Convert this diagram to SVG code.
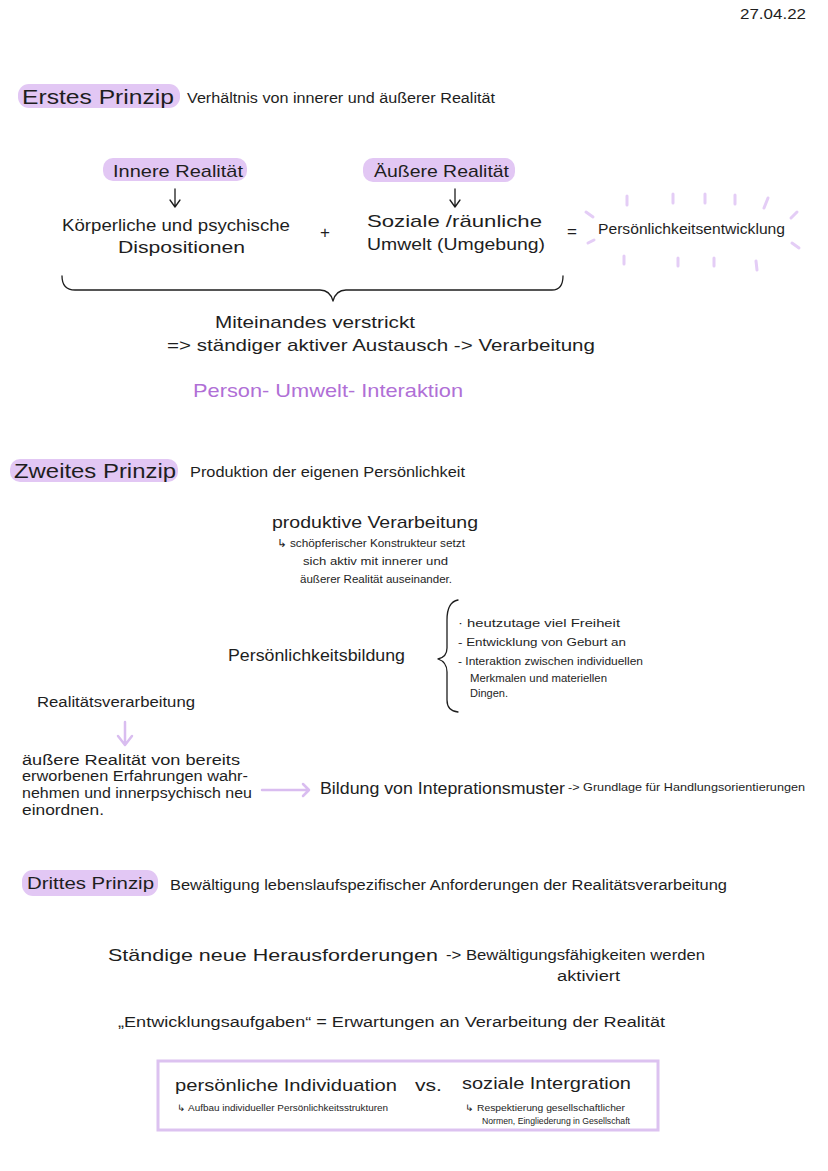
<svg xmlns="http://www.w3.org/2000/svg" width="828" height="1171" viewBox="0 0 828 1171">
<style>
text{font-family:"Liberation Sans","Open Sans",sans-serif;fill:#1e1e1e}
.hl{fill:#e2c7f4}
.p{fill:#b06fd6}
.ln{fill:none;stroke:#1e1e1e;stroke-width:1.3;stroke-linecap:round;stroke-linejoin:round}
.lp{fill:none;stroke:#d9bdf0;stroke-width:2.5;stroke-linecap:round;stroke-linejoin:round}
.sp{stroke:#e4cdf6;stroke-width:3;stroke-linecap:round}
.h{font-size:21px}
.s{font-size:14px}
.m{font-size:17px}
.t{font-size:11px}
.x{font-size:9px}
</style>
<rect width="828" height="1171" fill="#ffffff"/>
<g id="date"><text x="740" y="19" font-size="14" textLength="66" lengthAdjust="spacingAndGlyphs">27.04.22</text></g>

<g id="p1-title">
<rect class="hl" x="18" y="84" width="162" height="24" rx="11"/>
<text class="h" x="22" y="104" textLength="152" lengthAdjust="spacingAndGlyphs">Erstes Prinzip</text>
<text class="s" x="187" y="103" textLength="308" lengthAdjust="spacingAndGlyphs">Verhältnis von innerer und äußerer Realität</text>
</g>

<g id="innere">
<rect class="hl" x="103" y="158" width="144" height="23" rx="10"/>
<text class="m" x="113" y="177" textLength="130" lengthAdjust="spacingAndGlyphs">Innere Realität</text>
<path class="ln" d="M175 189 V206 M170 200 L175 207 L180 200"/>
<text class="m" x="62" y="231" textLength="228" lengthAdjust="spacingAndGlyphs">Körperliche und psychische</text>
<text class="m" x="118" y="253" textLength="127" lengthAdjust="spacingAndGlyphs">Dispositionen</text>
</g>
<g id="plus"><text class="m" x="320" y="238">+</text></g>
<g id="aeussere">
<rect class="hl" x="363" y="158" width="152" height="24" rx="10"/>
<text class="m" x="374" y="177" textLength="135" lengthAdjust="spacingAndGlyphs">Äußere Realität</text>
<path class="ln" d="M455 189 V206 M450 200 L455 207 L460 200"/>
<text class="m" x="367" y="227" textLength="175" lengthAdjust="spacingAndGlyphs">Soziale /räunliche</text>
<text class="m" x="367" y="250" textLength="178" lengthAdjust="spacingAndGlyphs">Umwelt (Umgebung)</text>
</g>
<g id="equals"><text class="m" x="567" y="237">=</text></g>
<g id="entwicklung">
<text class="s" x="598" y="234" textLength="187" lengthAdjust="spacingAndGlyphs">Persönlichkeitsentwicklung</text>
<g class="sp">
<line x1="627" y1="196" x2="627" y2="205"/>
<line x1="673" y1="194" x2="673" y2="203"/>
<line x1="705" y1="194" x2="705" y2="203"/>
<line x1="735" y1="195" x2="735" y2="204"/>
<line x1="768" y1="198" x2="764" y2="208"/>
<line x1="586" y1="212" x2="593" y2="217"/>
<line x1="588" y1="243" x2="594" y2="240"/>
<line x1="797" y1="212" x2="791" y2="218"/>
<line x1="792" y1="243" x2="799" y2="248"/>
<line x1="624" y1="256" x2="624" y2="264"/>
<line x1="678" y1="258" x2="678" y2="266"/>
<line x1="714" y1="258" x2="714" y2="266"/>
<line x1="756" y1="261" x2="757" y2="270"/>
</g>
</g>
<g id="brace1"><path class="ln" d="M62 276 Q62 290 75 290 L320 290 Q330 290 333 301 Q336 290 346 290 L552 290 Q563 290 563 276"/></g>
<g id="austausch">
<text class="m" x="215" y="328" textLength="200" lengthAdjust="spacingAndGlyphs">Miteinandes verstrickt</text>
<text class="m" x="167" y="351" textLength="428" lengthAdjust="spacingAndGlyphs">=&gt; ständiger aktiver Austausch  -&gt; Verarbeitung</text>
<text class="p" x="193" y="397" font-size="19" textLength="270" lengthAdjust="spacingAndGlyphs">Person- Umwelt- Interaktion</text>
</g>

<g id="p2-title">
<rect class="hl" x="10" y="459" width="168" height="23" rx="10"/>
<text class="h" x="14" y="478" textLength="162" lengthAdjust="spacingAndGlyphs">Zweites Prinzip</text>
<text class="s" x="190" y="477" textLength="275" lengthAdjust="spacingAndGlyphs">Produktion der eigenen Persönlichkeit</text>
</g>
<g id="produktiv">
<text class="m" x="272" y="528" font-size="18" textLength="206" lengthAdjust="spacingAndGlyphs">produktive Verarbeitung</text>
<text class="t" x="277" y="547" textLength="188" lengthAdjust="spacingAndGlyphs">↳ schöpferischer Konstrukteur setzt</text>
<text class="t" x="303" y="565" textLength="145" lengthAdjust="spacingAndGlyphs">sich aktiv mit innerer und</text>
<text class="t" x="300" y="583" textLength="152" lengthAdjust="spacingAndGlyphs">äußerer Realität auseinander.</text>
</g>
<g id="bildung">
<text class="m" x="228" y="661" textLength="177" lengthAdjust="spacingAndGlyphs">Persönlichkeitsbildung</text>
<path class="ln" d="M458 600 Q447 602 447 620 L447 648 Q447 657 438 659 Q447 662 447 672 L447 700 Q447 711 458 712"/>
<text class="t" x="458" y="627" textLength="162" lengthAdjust="spacingAndGlyphs">· heutzutage viel Freiheit</text>
<text class="t" x="458" y="646" textLength="168" lengthAdjust="spacingAndGlyphs">- Entwicklung von Geburt an</text>
<text class="t" x="458" y="665" textLength="185" lengthAdjust="spacingAndGlyphs">- Interaktion zwischen individuellen</text>
<text class="t" x="470" y="682" textLength="137" lengthAdjust="spacingAndGlyphs">Merkmalen und materiellen</text>
<text class="t" x="470" y="697" textLength="38" lengthAdjust="spacingAndGlyphs">Dingen.</text>
</g>
<g id="realitaet">
<text class="s" x="37" y="707" font-size="15" textLength="158" lengthAdjust="spacingAndGlyphs">Realitätsverarbeitung</text>
<text class="s" x="22" y="765" font-size="13" textLength="218" lengthAdjust="spacingAndGlyphs">äußere Realität von bereits</text>
<text class="s" x="22" y="781" font-size="13" textLength="226" lengthAdjust="spacingAndGlyphs">erworbenen Erfahrungen wahr-</text>
<text class="s" x="22" y="798" font-size="13" textLength="230" lengthAdjust="spacingAndGlyphs">nehmen und innerpsychisch neu</text>
<text class="s" x="22" y="815" font-size="13" textLength="82" lengthAdjust="spacingAndGlyphs">einordnen.</text>
</g>
<g id="muster">
<text class="m" x="320" y="794" font-size="18" textLength="245" lengthAdjust="spacingAndGlyphs">Bildung von Inteprationsmuster</text>
<text class="t" x="568" y="791" textLength="237" lengthAdjust="spacingAndGlyphs">-&gt; Grundlage für Handlungsorientierungen</text>
</g>
<g id="connectors">
<path class="lp" d="M125 722 V744 M118 736 L125 745 L132 736"/>
<path class="lp" d="M262 790 H308 M303 784 L309 790 L303 796"/>
</g>

<g id="p3-title">
<rect class="hl" x="22" y="870" width="136" height="26" rx="11"/>
<text class="m" x="27" y="889" font-size="18" textLength="127" lengthAdjust="spacingAndGlyphs">Drittes Prinzip</text>
<text class="s" x="170" y="890" textLength="557" lengthAdjust="spacingAndGlyphs">Bewältigung lebenslaufspezifischer Anforderungen der Realitätsverarbeitung</text>
</g>
<g id="herausforderungen">
<text class="m" x="108" y="961" font-size="18" textLength="330" lengthAdjust="spacingAndGlyphs">Ständige neue Herausforderungen</text>
<text class="s" x="446" y="960" font-size="15" textLength="259" lengthAdjust="spacingAndGlyphs">-&gt; Bewältigungsfähigkeiten werden</text>
<text class="s" x="557" y="981" font-size="15" textLength="63" lengthAdjust="spacingAndGlyphs">aktiviert</text>
</g>
<g id="aufgaben">
<text class="s" x="118" y="1027" font-size="16" textLength="547" lengthAdjust="spacingAndGlyphs">„Entwicklungsaufgaben“ = Erwartungen an Verarbeitung der Realität</text>
</g>
<g id="box">
<rect x="158" y="1061" width="500" height="69" fill="none" stroke="#dcc2f0" stroke-width="3"/>
<text class="m" x="175" y="1091" font-size="18" textLength="222" lengthAdjust="spacingAndGlyphs">persönliche Individuation</text>
<text class="m" x="415" y="1091" textLength="27" lengthAdjust="spacingAndGlyphs">vs.</text>
<text class="m" x="462" y="1089" font-size="18" textLength="169" lengthAdjust="spacingAndGlyphs">soziale Intergration</text>
<text class="x" x="177" y="1111" textLength="211" lengthAdjust="spacingAndGlyphs">↳ Aufbau individueller Persönlichkeitsstrukturen</text>
<text class="x" x="465" y="1111" textLength="160" lengthAdjust="spacingAndGlyphs">↳ Respektierung gesellschaftlicher</text>
<text class="x" x="482" y="1124" textLength="148" lengthAdjust="spacingAndGlyphs">Normen, Eingliederung in Gesellschaft</text>
</g>
</svg>
